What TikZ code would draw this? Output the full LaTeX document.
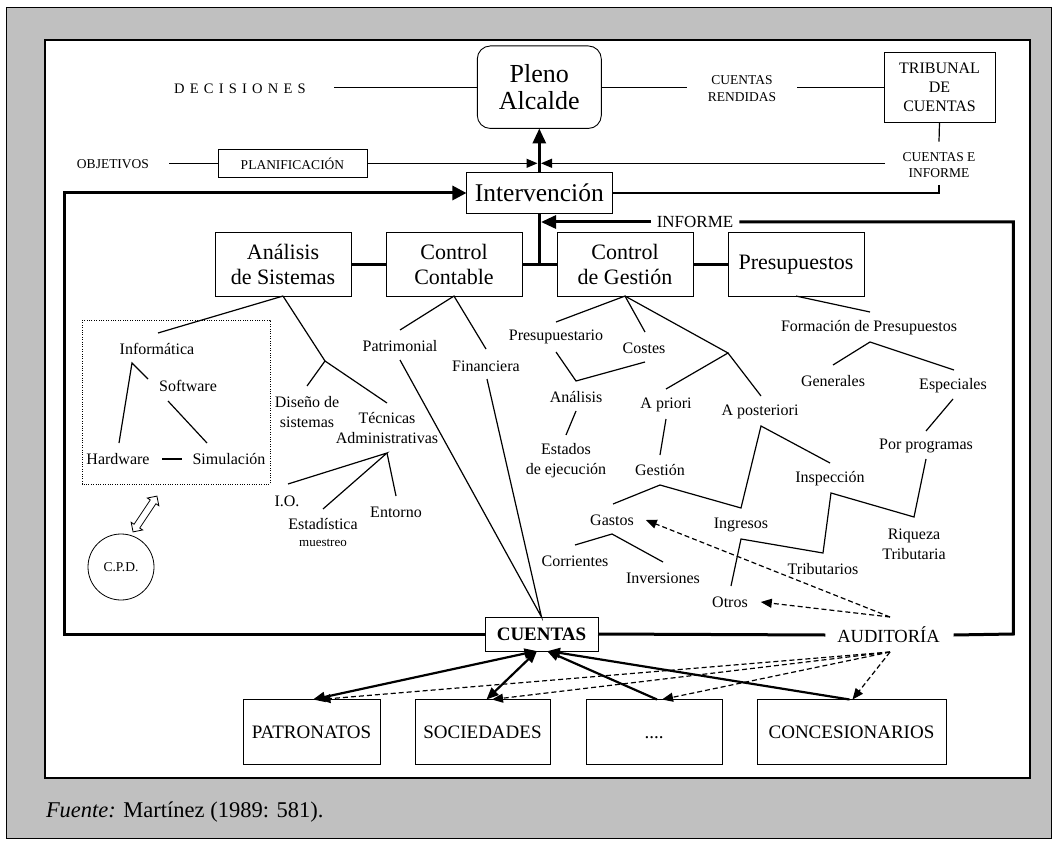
\documentclass[tikz,border=0pt]{standalone}
\usepackage{fontspec}
\setmainfont{Liberation Serif}
\usetikzlibrary{arrows.meta,shapes.arrows}

\definecolor{framegray}{HTML}{C0C0C0}
\newcommand{\sz}[2]{\fontsize{#1}{#2}\selectfont}

\begin{document}
\begin{tikzpicture}[x=1pt,y=-1pt,
  every node/.style={inner sep=0pt, outer sep=0pt},
  unitbox/.style={draw, line width=0.9pt, minimum width=136pt, minimum height=63.3pt, align=center, font=\sz{22}{25.7}},
  entitybox/.style={draw, line width=0.9pt, minimum height=65pt, font=\sz{19}{22}},
  lbl/.style={align=center, font=\sz{16}{20}},
  caps/.style={align=center, font=\sz{13.5}{16.7}},
  branch/.style={line width=1.2pt},
  heavy/.style={line width=3pt},
  link/.style={line width=2.6pt},
  flow/.style={line width=2.2pt},
  bigtip/.style={-{Triangle[length=15pt,width=13pt]}},
  flowtip/.style={-{Triangle[length=12pt,width=10pt]}},
  bothtips/.style={{Triangle[length=12pt,width=10pt]}-{Triangle[length=12pt,width=10pt]}},
  thintip/.style={-{Triangle[length=11pt,width=9pt]}},
  audit/.style={line width=1.2pt, dash pattern=on 5pt off 3pt, -{Triangle[length=11pt,width=9pt]}},
]
\useasboundingbox (0,0) rectangle (1058,845);

% frame and caption
\draw[fill=framegray, line width=1pt] (6.5,7.5) rectangle (1051.5,838.5);
\draw[fill=white, line width=1.3pt] (45,40) rectangle (1030,778);
\node[anchor=west, font=\sz{22.5}{26}] (source) at (46,812) {\textit{Fuente:} Martínez (1989: 581).};

% ---------- top level ----------
\node[draw, rounded corners=13pt, line width=0.9pt, minimum width=124pt, minimum height=82.5pt,
      align=center, font=\sz{26}{27}] (pleno) at (539.3,87.2) {Pleno\\Alcalde};
\node[font=\sz{14.5}{17}\addfontfeature{LetterSpace=36}] (decis) at (240,88.3) {DECISIONES};
\node[caps] (rendidas) at (742,88.3) {CUENTAS\\RENDIDAS};
\node[draw, line width=0.9pt, minimum width=111pt, minimum height=70.3pt, align=center,
      font=\sz{16}{19.2}] (tribunal) at (939.5,87.2) {TRIBUNAL\\DE\\CUENTAS};
\node[caps] (ceinf) at (939,165) {CUENTAS E\\INFORME};
\node[caps] (objet) at (113,164) {OBJETIVOS};
\node[draw, line width=0.8pt, minimum width=149pt, minimum height=27.4pt, font=\sz{13.5}{16}]
      (planif) at (292.5,163.3) {PLANIFICACIÓN};
\node[draw, line width=0.9pt, minimum width=145.7pt, minimum height=40.6pt, font=\sz{25.5}{28}]
      (interv) at (539.3,193) {Intervención};

\coordinate (decisEnd) at (334,87.2);
\coordinate (rendL) at (687,87.2);
\coordinate (rendR) at (797,87.2);
\coordinate (ceiTop) at (939,141.7);
\coordinate (ceiBot) at (939,185);
\coordinate (ceiTurn) at (939,193);
\coordinate (ceiLeft) at (885,163.3);
\coordinate (objEnd) at (169,163.3);
\coordinate (meetL) at (537.5,163.3);
\coordinate (meetR) at (541,163.3);

\draw[branch] (decisEnd) -- (pleno.west);
\draw[branch] (pleno.east) -- (rendL);
\draw[branch] (rendR) -- (tribunal.west);
\draw[branch] (tribunal.south) -- (ceiTop);
\draw[branch] (ceiBot) -- (ceiTurn) -- (interv.east);
\draw[branch, thintip] (ceiLeft) -- (meetR);
\draw[branch] (objEnd) -- (planif.west);
\draw[branch, thintip] (planif.east) -- (meetL);
\draw[heavy, bigtip] (interv.north) -- (pleno.south);

% ---------- control units ----------
\node[unitbox] (analisis) at (283,264.4) {Análisis\\de Sistemas};
\node[unitbox] (contable) at (454,264.4) {Control\\Contable};
\node[unitbox] (gestion) at (625,264.4) {Control\\de Gestión};
\node[unitbox] (presup) at (796,264.4) {Presupuestos};

\coordinate (spine) at (539.3,264.4);
\draw[heavy] (interv.south) -- (spine);
\draw[link] (analisis.east) -- (contable.west);
\draw[link] (contable.east) -- (gestion.west);
\draw[link] (gestion.east) -- (presup.west);

% ---------- accounts loop ----------
\node[draw, line width=0.9pt, minimum width=113pt, minimum height=34pt, font=\bfseries\sz{19}{22}]
      (cuentas) at (541.5,634) {CUENTAS};
\node[font=\sz{18.5}{20}] (auditoria) at (888.5,635) {AUDITORÍA};
\node[font=\sz{17}{20}] (informe) at (695,222) {INFORME};

\coordinate (loopBL) at (64,634);
\coordinate (loopTL) at (64,193);
\coordinate (loopBR) at (1013.3,634);
\coordinate (loopTR) at (1013.3,222);
\coordinate (informeTip) at (541,222);

\draw[heavy, -{Triangle[length=14pt,width=14pt]}] (cuentas.west) -- (loopBL) -- (loopTL) -- (interv.west);
\draw[heavy] (cuentas.east) -- ([xshift=-12pt]auditoria.west);
\draw[heavy] ([xshift=14pt]auditoria.east) -- (loopBR) -- (loopTR) -- ([xshift=6pt]informe.east);
\draw[heavy, bigtip] ([xshift=-6pt]informe.west) -- (informeTip);

% ---------- systems analysis ----------
\draw[line width=0.8pt, dash pattern=on 1pt off 1.4pt] (82,320) rectangle (270,484);
\node[lbl] (informatica) at (157,349) {Informática};
\node[lbl] (software) at (188,386) {Software};
\node[lbl] (hardware) at (118,459) {Hardware};
\node[lbl] (simulacion) at (229,459) {Simulación};
\node[lbl] (diseno) at (307,411.7) {Diseño de\\sistemas};
\node[lbl] (tecnicas) at (387,428.5) {Técnicas\\Administrativas};
\node[lbl] (io) at (287,501) {I.O.};
\node[lbl] (estad) at (323,524) {Estadística};
\node[font=\sz{13}{15}] (muestreo) at (323,543) {muestreo};
\node[lbl] (entorno) at (396,512) {Entorno};
\node[draw, circle, line width=0.8pt, minimum size=66pt, font=\sz{13.5}{16}] (cpd) at (121,567) {C.P.D.};
\node[draw, double arrow, rotate=56.3, line width=0.8pt, minimum height=43pt,
      inner xsep=0pt, inner ysep=3pt, double arrow head extend=3.5pt] (cpdlink) at (145,514) {};

\coordinate (infoIn) at (158,333);
\coordinate (infoFork) at (132,363);
\coordinate (softIn) at (148,379);
\coordinate (hardIn) at (119,443);
\coordinate (softOut) at (168,401);
\coordinate (simIn) at (207,443);
\coordinate (hsL) at (162,459);
\coordinate (hsR) at (182,459);
\coordinate (sysFork) at (325,361);
\coordinate (disIn) at (307,386);
\coordinate (tecIn) at (387,403);
\coordinate (tecFork) at (387,453);
\coordinate (ioIn) at (288,484);
\coordinate (estIn) at (323,509);
\coordinate (entIn) at (396,496);

\draw[branch] (analisis.south) -- (infoIn);
\draw[branch] (softIn) -- (infoFork) -- (hardIn);
\draw[branch] (softOut) -- (simIn);
\draw[branch] (hsL) -- (hsR);
\draw[branch] (analisis.south) -- (sysFork);
\draw[branch] (disIn) -- (sysFork) -- (tecIn);
\draw[branch] (ioIn) -- (tecFork) -- (estIn);
\draw[branch] (tecFork) -- (entIn);

% ---------- accounting control ----------
\node[lbl] (patrim) at (400,346) {Patrimonial};
\node[lbl] (financ) at (486,366) {Financiera};
\coordinate (patIn) at (400,330);
\coordinate (patOut) at (400,360);
\coordinate (finIn) at (486,349);
\coordinate (finOut) at (487,379);
\draw[branch] (patIn) -- (contable.south) -- (finIn);
\draw[branch] (patOut) -- (cuentas.north) -- (finOut);

% ---------- management control ----------
\node[lbl] (presupuestario) at (556,337) {Presupuestario};
\node[lbl] (costes) at (644,348) {Costes};
\node[lbl] (analisisG) at (576,397) {Análisis};
\node[lbl] (estados) at (566,461) {Estados\\de ejecución};
\node[lbl] (apriori) at (666,405) {A priori};
\node[lbl] (aposteriori) at (760,412) {A posteriori};
\node[lbl] (gestionG) at (660,470.5) {Gestión};
\node[lbl] (gastos) at (612,520) {Gastos};
\node[lbl] (ingresos) at (741,525) {Ingresos};
\node[lbl] (corrientes) at (575,561) {Corrientes};
\node[lbl] (inversiones) at (663,578) {Inversiones};
\node[lbl] (inspeccion) at (830,479) {Inspección};
\node[lbl] (tributarios) at (823,569) {Tributarios};
\node[lbl] (otros) at (730,602) {Otros};

\coordinate (preIn) at (556,322);
\coordinate (cosIn) at (645,332);
\coordinate (timeFork) at (728,353);
\coordinate (preOut) at (556,352);
\coordinate (anaIn) at (576,381);
\coordinate (cosOut) at (645,362);
\coordinate (anaOut) at (576,411);
\coordinate (estIn2) at (566,435);
\coordinate (priIn) at (666,389);
\coordinate (postIn) at (761,396);
\coordinate (priOut) at (666,419);
\coordinate (gesIn) at (660,455);
\coordinate (gasIn) at (613,504);
\coordinate (gesOut) at (660,485);
\coordinate (ingIn) at (741,508);
\coordinate (postOut) at (761,426);
\coordinate (insIn) at (830,463);
\coordinate (corIn) at (575,545);
\coordinate (gasOut) at (612,534);
\coordinate (invIn) at (663,562);
\coordinate (otrIn) at (731,586);
\coordinate (ingOut) at (741,539);
\coordinate (triIn) at (823,553);
\coordinate (insOut) at (831,493);
\coordinate (riqIn) at (914,517);
\coordinate (progOut) at (926,459);

\draw[branch] (preIn) -- (gestion.south) -- (cosIn);
\draw[branch] (gestion.south) -- (timeFork);
\draw[branch] (preOut) -- (anaIn) -- (cosOut);
\draw[branch] (anaOut) -- (estIn2);
\draw[branch] (priIn) -- (timeFork) -- (postIn);
\draw[branch] (priOut) -- (gesIn);
\draw[branch] (gasIn) -- (gesOut) -- (ingIn) -- (postOut) -- (insIn);
\draw[branch] (corIn) -- (gasOut) -- (invIn);
\draw[branch] (otrIn) -- (ingOut) -- (triIn) -- (insOut) -- (riqIn) -- (progOut);

% ---------- budgets ----------
\node[lbl] (formacion) at (869,328) {Formación de Presupuestos};
\node[lbl] (generales) at (833,381) {Generales};
\node[lbl] (especiales) at (953,386) {Especiales};
\node[lbl] (porprog) at (926,446) {Por programas};
\node[lbl] (riqueza) at (914,544) {Riqueza\\Tributaria};

\coordinate (forIn) at (870,312);
\coordinate (genIn) at (833,365);
\coordinate (forOut) at (870,342);
\coordinate (espIn) at (954,370);
\coordinate (espOut) at (953,399);
\coordinate (progIn) at (926,431);
\draw[branch] (presup.south) -- (forIn);
\draw[branch] (genIn) -- (forOut) -- (espIn);
\draw[branch] (espOut) -- (progIn);

% ---------- dependent entities ----------
\node[entitybox, minimum width=137pt] (patron) at (311.5,732) {PATRONATOS};
\node[entitybox, minimum width=135pt] (socied) at (482.5,732) {SOCIEDADES};
\node[entitybox, minimum width=136pt] (otras) at (654,732) {\vphantom{PO}....};
\node[entitybox, minimum width=189pt] (conces) at (851.5,732) {CONCESIONARIOS};

\draw[flow, bothtips] ([xshift=1.5pt]patron.north) -- ([xshift=-5pt]cuentas.south);
\draw[flow, bothtips] ([xshift=4pt]socied.north) -- ([xshift=-4.5pt]cuentas.south);
\draw[flow, flowtip] ([xshift=3pt]otras.north) -- ([xshift=5.5pt]cuentas.south);
\draw[flow, flowtip] ([xshift=-2pt]conces.north) -- ([xshift=6.5pt]cuentas.south);

% audit paths
\coordinate (audHigh) at (890,617);
\coordinate (audLow) at (890,652);
\draw[audit] (audHigh) -- ([xshift=12pt]gastos.east);
\draw[audit] (audHigh) -- ([xshift=13pt]otros.east);
\draw[audit] (audLow) -- ([xshift=8pt]patron.north);
\draw[audit] (audLow) -- ([xshift=9.5pt]socied.north);
\draw[audit] (audLow) -- ([xshift=8pt]otras.north);
\draw[audit] (audLow) -- ([xshift=1pt]conces.north);
\end{tikzpicture}
\end{document}
